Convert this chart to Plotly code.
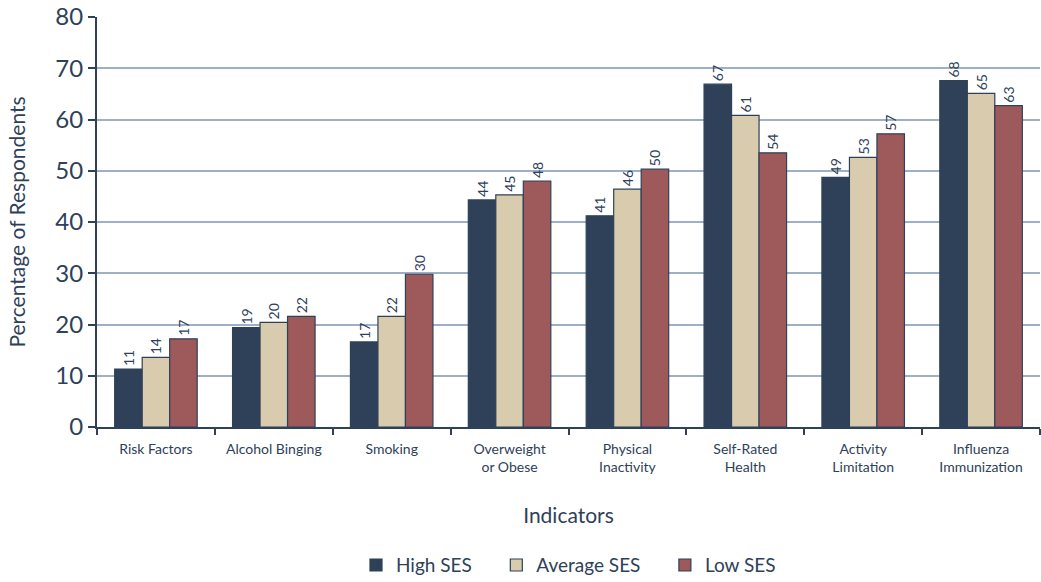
import plotly.graph_objects as go

# categories and values
indicators = ['Risk Factors', 'Alcohol Binging', 'Smoking', 'Overweight<br>or Obese',
              'Physical<br>Inactivity', 'Self-Rated<br>Health', 'Activity<br>Limitation',
              'Influenza<br>Immunization']
high_ses = [11.3, 19.4, 16.6, 44.3, 41.2, 66.9, 48.7, 67.6]
avg_ses = [13.6, 20.4, 21.6, 45.3, 46.4, 60.8, 52.6, 65.1]
low_ses = [17.2, 21.6, 29.8, 48.0, 50.3, 53.5, 57.2, 62.7]
high_lbl = [11, 19, 17, 44, 41, 67, 49, 68]
avg_lbl = [14, 20, 22, 45, 46, 61, 53, 65]
low_lbl = [17, 22, 30, 48, 50, 54, 57, 63]

navy = '#2e4159'
font = 'Lato'
pad = '\u00a0' * 4  # extra room between legend entries

fig = go.Figure()
for name, vals, lbls, col in [('High SES' + pad, high_ses, high_lbl, '#2e4159'),
                              ('Average SES' + pad, avg_ses, avg_lbl, '#d9ccae'),
                              ('Low SES', low_ses, low_lbl, '#9e5a5a')]:
    fig.add_trace(go.Bar(
        x=indicators, y=vals, name=name,
        text=[str(v) for v in lbls], textposition='outside', textangle=-90,
        textfont=dict(family=font, size=14, color=navy),
        cliponaxis=False,
        marker=dict(color=col, line=dict(color=navy, width=1.2)),
    ))

fig.update_layout(
    width=1041, height=582,
    margin=dict(l=97, r=1, t=17, b=155, autoexpand=False),
    barmode='group', bargap=0.3, bargroupgap=0,
    plot_bgcolor='white', paper_bgcolor='white',
    font=dict(family=font, color=navy),
    legend=dict(orientation='h', x=0.5, xanchor='center', y=-0.337, yanchor='middle',
                font=dict(size=19, color=navy), itemwidth=30),
    xaxis=dict(
        title=dict(text='Indicators', font=dict(size=21, color=navy), standoff=34),
        tickfont=dict(size=14, color=navy),
        showline=True, linecolor=navy, linewidth=2,
        ticks='outside', tickson='boundaries', ticklen=6, tickwidth=2, tickcolor=navy,
        ticklabelstandoff=8, automargin=False,
    ),
    yaxis=dict(
        title=dict(text='Percentage of Respondents', font=dict(size=21, color=navy), standoff=24),
        range=[0, 80], dtick=10,
        tickfont=dict(size=24, color=navy), ticklabeloverflow='allow',
        showline=True, linecolor=navy, linewidth=2,
        ticks='outside', ticklen=7, tickwidth=2, tickcolor=navy,
        showgrid=True, gridcolor='#9db0c8', gridwidth=2,
        zeroline=False, automargin=False,
    ),
)

# drop the browser's default 8px body margin so the figure fills the window
fig.write_html('out.html', config={'displayModeBar': False},
               post_script="document.body.style.margin = '0';")
